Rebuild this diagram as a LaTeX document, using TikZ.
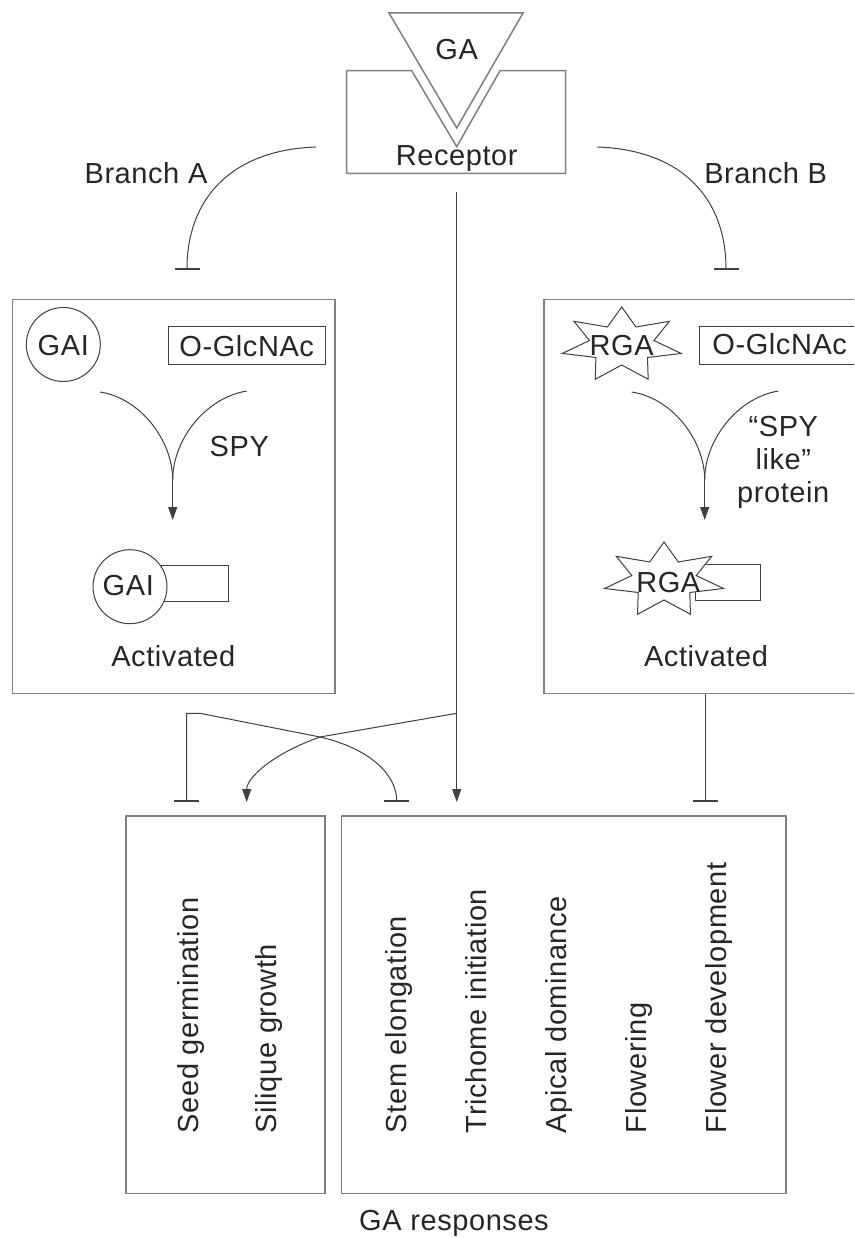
\documentclass[tikz,border=0pt]{standalone}
\usepackage{fontspec}
\setmainfont[LetterSpace=2]{Liberation Sans}
\usetikzlibrary{arrows.meta}

\tikzset{
  box/.style={draw=black!50, line width=1.5pt},
  part/.style={draw=black!75, line width=1pt},
  conn/.style={draw=black!75, line width=1pt},
  act/.style={conn, -{Triangle[length=13pt,width=9pt]}},
  inh/.style={conn, -{Bar[width=25pt,line width=1.8pt]}},
  lbl/.style={text=black!85, inner sep=0pt, font=\fontsize{29}{32.7}\selectfont},
  vlbl/.style={lbl, rotate=90, anchor=base west},
}

% seven pointed star drawn as a stretched polygon
\newcommand{\rgastar}[2]{%
  \draw[part, fill=white] (#1,#2-38)
    \foreach \k [evaluate=\k as \rx using {ifthenelse(mod(\k,2)==0,61,33)},
                 evaluate=\k as \ry using {ifthenelse(mod(\k,2)==0,38,20)}] in {1,...,13}
      { -- ({#1+\rx*cos(90+\k*180/7)},{#2-\ry*sin(90+\k*180/7)}) } -- cycle;}

\begin{document}
\begin{tikzpicture}[x=1pt,y=-1pt]
\path[use as bounding box, fill=white] (0,0) rectangle (854,1238);
\clip (0,0) rectangle (854,1238);

% hormone and receptor
\draw[box] (389,13) -- (523,13) -- (456.7,128) -- cycle;
\draw[box] (346.7,70.7) -- (411.7,70.7) -- (456.7,146.7) -- (500,70.7) -- (565.7,70.7)
  -- (565.7,173.3) -- (346.7,173.3) -- cycle;
\node[lbl, anchor=base] (ga) at (456.7,60) {GA};
\node[lbl, anchor=base] (rec) at (456.7,165.7) {Receptor};

\node[lbl, anchor=base] (brA) at (146,183.3) {Branch A};
\node[lbl, anchor=base] (brB) at (765.7,183.3) {Branch B};
\coordinate (recA) at (316,147);
\coordinate (recB) at (597.3,147);
\coordinate (recout) at (456.7,192);

% branch boxes
\node[box, minimum width=322.3pt, minimum height=394pt] (boxA) at (173.85,496.3) {};
\node[box, minimum width=323.4pt, minimum height=394pt] (boxB) at (705.7,496.3) {};

\draw[inh] (recA) .. controls (230,150) and (187,200) .. (187,270);
\draw[inh] (recB) .. controls (683.7,150) and (726,200) .. (726,270);

% branch A
\draw[part] (63.3,344.5) circle (37);
\node[lbl, anchor=base] (gai) at (63.3,355) {GAI};
\node[part, minimum width=156.7pt, minimum height=38.3pt] (glcA) at (246.7,345.8) {};
\node[lbl, anchor=base] at (246.7,356.7) {O-GlcNAc};
\coordinate (mergeA) at (172.7,480);
\draw[conn] (100,392) .. controls (140,398) and (172.7,440) .. (mergeA);
\draw[conn] (246.7,391) .. controls (205,398) and (172.7,440) .. (mergeA);
\draw[act] (mergeA) -- (172.7,520);
\node[lbl, anchor=base] (spy) at (239.3,456.7) {SPY};
\draw[part] (161.7,565) rectangle (228.3,601.7);
\draw[part, fill=white] (130,586.7) circle (37);
\node[lbl, anchor=base] (gaiact) at (128.3,595) {GAI};
\node[lbl, anchor=base] (actA) at (173.3,666.7) {Activated};

% branch B
\rgastar{621.7}{345}
\node[lbl, anchor=base] (rga) at (621.7,355) {RGA};
\node[part, minimum width=156.7pt, minimum height=37.6pt] (glcB) at (777.65,345.5) {};
\node[lbl, anchor=base] at (779.7,354.5) {O-GlcNAc};
\coordinate (mergeB) at (704.7,480);
\draw[conn] (631.7,392) .. controls (672,398) and (704.7,440) .. (mergeB);
\draw[conn] (778.3,391) .. controls (737,398) and (704.7,440) .. (mergeB);
\draw[act] (mergeB) -- (704.7,520);
\node[lbl, align=center] (spylike) at (783.3,462.5) {“SPY\\like”\\protein};
\draw[part] (695,564.3) rectangle (760,600.7);
\rgastar{664}{580}
\node[lbl, anchor=base] (rgaact) at (668.3,592) {RGA};
\node[lbl, anchor=base] (actB) at (706,666.7) {Activated};

% responses
\node[box, minimum width=199pt, minimum height=377.3pt] (resA) at (225.5,1004.65) {};
\node[box, minimum width=444.3pt, minimum height=377.3pt] (resB) at (563.85,1004.65) {};
\node[vlbl] at (198.3,1133.3) {Seed germination};
\node[vlbl] at (276.7,1133.3) {Silique growth};
\node[vlbl] at (406.7,1133.3) {Stem elongation};
\node[vlbl] at (486.7,1133.3) {Trichome initiation};
\node[vlbl] at (566.7,1133.3) {Apical dominance};
\node[vlbl] at (646.7,1133.3) {Flowering};
\node[vlbl] at (726.7,1133.3) {Flower development};
\node[lbl, anchor=base] (resp) at (454,1230.5) {GA responses};

% signals into the responses
\coordinate (fork) at (456.7,713.3);
\draw[act] (recout) -- (456.7,802);
\draw[inh] (boxB.south) -- (705.7,802);
\draw[act] (fork) -- (320,737) .. controls (272,754) and (246.7,778) .. (246.7,802);
\draw[conn, {Bar[width=25pt,line width=1.8pt]}-{Bar[width=25pt,line width=1.8pt]}]
  (186.7,802) -- (186.7,713.3) -- (200,713.3) -- (320,737)
  .. controls (372,749) and (396.7,776) .. (396.7,802);
\end{tikzpicture}
\end{document}
